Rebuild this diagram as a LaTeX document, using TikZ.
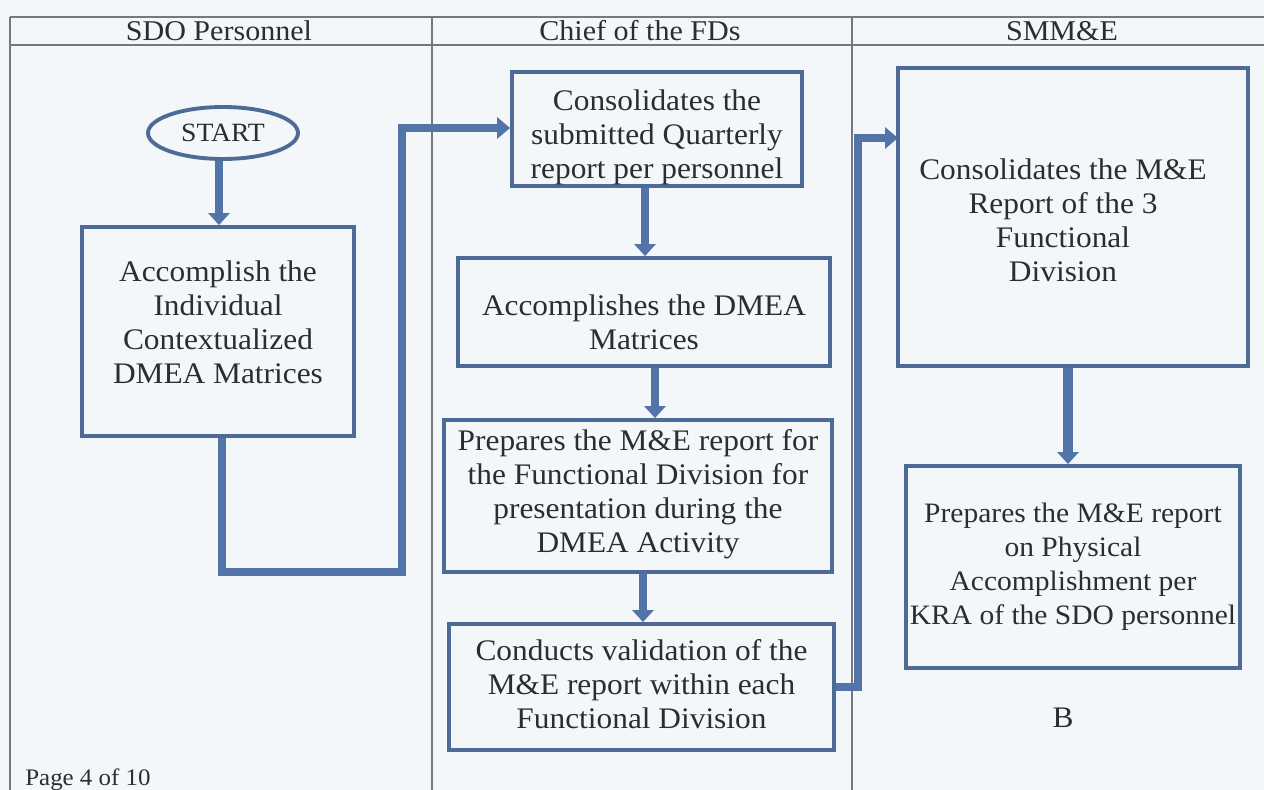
\documentclass[tikz,border=0pt]{standalone}
\usepackage{fontspec}
\setmainfont{Liberation Serif}[FakeStretch=1.05]
\usetikzlibrary{arrows.meta,shapes.geometric}
\definecolor{paper}{RGB}{244,247,249}
\definecolor{boxblue}{RGB}{78,106,150}
\definecolor{connblue}{RGB}{82,116,168}
\definecolor{ink}{RGB}{45,45,45}
\definecolor{rule}{RGB}{120,120,120}
\tikzset{
  x=0.02cm, y=-0.02cm,
  every node/.style={text=ink, font=\fontsize{17}{19.4}\selectfont},
  stepbox/.style={draw=boxblue, line width=2.2pt, fill=paper, inner sep=0pt},
  txt/.style={align=center, inner sep=0pt},
  startel/.style={draw=boxblue, line width=2.2pt, ellipse, fill=paper, inner sep=0pt, font=\fontsize{15}{17}\selectfont},
  arr/.style={draw=connblue, line width=4.5pt, -{Triangle[width=0.42cm,length=0.24cm]}},
  conn/.style={draw=connblue, line width=5pt, -{Triangle[width=0.42cm,length=0.26cm]}},
  rulel/.style={draw=rule, line width=0.7pt},
  head/.style={text=ink, font=\fontsize{16.3}{19}\selectfont}
}
\begin{document}
\begin{tikzpicture}
\fill[paper] (0,0) rectangle (1264,790);
\useasboundingbox (0,0) rectangle (1264,790);
% table
\draw[rulel] (10,17) -- (1264,17);
\draw[rulel] (10,45) -- (1264,45);
\draw[rulel] (10,17) -- (10,790);
\draw[rulel] (432,17) -- (432,790);
\draw[rulel] (852,17) -- (852,790);
\node[head] (h1) at (219,31) {SDO Personnel};
\node[head] (h2) at (640,31) {Chief of the FDs};
\node[head] (h3) at (1062,31) {SMM\&E};
% nodes
\node[startel, minimum width=3.0cm, minimum height=1.04cm] (st) at (223,133) {START};
\node[stepbox, minimum width=5.44cm, minimum height=4.18cm] (b1) at (218,331.5) {};
\node[txt] (t1) at ([yshift=0.18cm]b1.center) {Accomplish the\\Individual\\Contextualized\\DMEA Matrices};
\node[stepbox, minimum width=5.8cm, minimum height=2.28cm] (b2) at (657,129) {};
\node[txt] (t2) at ([yshift=-0.16cm]b2.center) {Consolidates the\\submitted Quarterly\\report per personnel};
\node[stepbox, minimum width=7.44cm, minimum height=2.16cm] (b3) at (644,312) {};
\node[txt] (t3) at ([yshift=-0.2cm]b3.center) {Accomplishes the DMEA\\Matrices};
\node[stepbox, minimum width=7.76cm, minimum height=3.04cm] (b4) at (638,496) {};
\node[txt] (t4) at ([yshift=0.04cm]b4.center) {Prepares the M\&E report for\\the Functional Division for\\presentation during the\\DMEA Activity};
\node[stepbox, minimum width=7.7cm, minimum height=2.52cm] (b5) at (641.5,687) {};
\node[txt] (t5) at ([yshift=0.06cm]b5.center) {Conducts validation of the\\M\&E report within each\\Functional Division};
\node[stepbox, minimum width=7.0cm, minimum height=5.96cm] (b6) at (1073,217) {};
\node[txt] (t6) at ([xshift=-0.2cm,yshift=-0.06cm]b6.center) {Consolidates the M\&E\\Report of the 3\\Functional\\Division};
\node[stepbox, minimum width=6.68cm, minimum height=4.04cm] (b7) at (1073,567) {};
\node[txt, font=\fontsize{16}{19.4}\selectfont] (t7) at (b7.center) {Prepares the M\&E report\\on Physical\\Accomplishment per\\KRA of the SDO personnel};
\node (bl) at (1063,718) {B};
\node[anchor=base west, inner sep=0pt, font=\fontsize{13.5}{16}\selectfont] (pg) at (25,785) {Page 4 of 10};
% connectors
\coordinate (c1) at (402,572);
\coordinate (c2) at (858,687);
\coordinate (c3) at (898,138);
\draw[arr] ([xshift=-0.08cm]st.south) -- ([xshift=-0.08cm]st.south |- b1.north);
\draw[arr] ([xshift=-0.24cm]b2.south) -- ([xshift=-0.24cm]b2.south |- b3.north);
\draw[arr] ([xshift=0.22cm]b3.south) -- ([xshift=0.22cm]b3.south |- b4.north);
\draw[arr] ([xshift=0.1cm]b4.south) -- ([xshift=0.1cm]b4.south |- b5.north);
\draw[arr, line width=6pt] ([xshift=-0.1cm]b6.south) -- ([xshift=-0.1cm]b6.south |- b7.north);
\draw[conn, line join=miter] ([xshift=0.08cm]b1.south) |- (c1) |- ([yshift=0.02cm]b2.west);
\draw[conn, line join=miter] (b5.east) -- (c2) |- (c3);
\end{tikzpicture}
\end{document}
